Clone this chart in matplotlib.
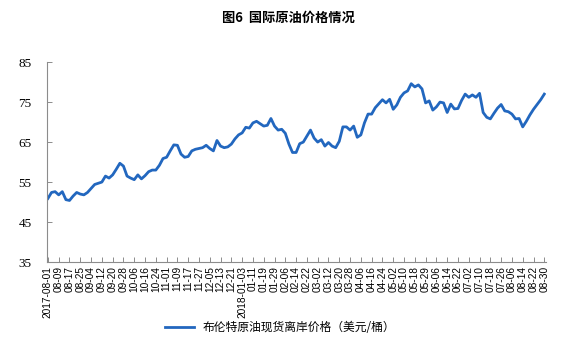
import numpy as np
import matplotlib
matplotlib.use('Agg')
import matplotlib.pyplot as plt

# Brent spot price, sampled every 2nd trading day (2017-08-01 .. 2018-08-30)
brent = [50.9, 52.4, 52.6, 51.8, 52.6, 50.6, 50.4, 51.5, 52.4, 52.0,
         51.8, 52.4, 53.4, 54.4, 54.7, 55.0, 56.5, 56.0, 56.8, 58.2,
         59.7, 59.0, 56.5, 56.0, 55.6, 56.8, 55.8, 56.6, 57.6, 58.0,
         58.0, 59.2, 60.9, 61.2, 62.8, 64.3, 64.2, 62.0, 61.2, 61.4,
         62.8, 63.2, 63.4, 63.6, 64.2, 63.4, 62.8, 65.4, 64.0, 63.6,
         63.8, 64.5, 65.8, 66.8, 67.3, 68.7, 68.5, 69.8, 70.2, 69.6,
         69.0, 69.2, 70.9, 69.0, 68.0, 68.2, 67.2, 64.5, 62.4, 62.4,
         64.6, 65.0, 66.5, 68.0, 66.0, 65.0, 65.6, 64.0, 64.9, 64.0,
         63.6, 65.2, 68.8, 68.8, 68.0, 69.0, 66.2, 66.8, 69.8, 72.0,
         72.0, 73.6, 74.6, 75.6, 74.8, 75.7, 73.2, 74.3, 76.2, 77.3,
         77.8, 79.6, 78.8, 79.3, 78.3, 74.8, 75.3, 73.0, 73.8, 75.0,
         74.8, 72.4, 74.5, 73.3, 73.4, 75.4, 77.0, 76.2, 76.8, 76.2,
         77.2, 72.4, 71.2, 70.8, 72.2, 73.5, 74.4, 72.8, 72.6, 72.0,
         70.8, 70.9, 68.8, 70.2, 71.8, 73.2, 74.4, 75.6, 77.0]

# tick labels, one every 6 trading days
date_labels = ['2017-08-01', '08-09', '08-17', '08-25', '09-04', '09-12', '09-20',
               '09-28', '10-06', '10-16', '10-24', '11-01', '11-09', '11-17',
               '11-27', '12-05', '12-13', '12-21', '2018-01-03', '01-11', '01-19',
               '01-29', '02-06', '02-14', '02-22', '03-02', '03-12', '03-20',
               '03-28', '04-06', '04-16', '04-24', '05-02', '05-10', '05-18',
               '05-29', '06-06', '06-14', '06-22', '07-02', '07-10', '07-18',
               '07-26', '08-06', '08-14', '08-22', '08-30']
y_ticks = [35, 45, 55, 65, 75, 85]

title = '图6  国际原油价格情况'
series_name = '布伦特原油现货离岸价格（美元/桶）'

cjk = ['Noto Sans CJK SC', 'DejaVu Sans']
line_color = '#2267BF'
axis_color = '#8C8C8C'

x = np.arange(len(brent)) * 2
tick_pos = np.arange(len(date_labels)) * 6

fig = plt.figure(figsize=(5.61, 3.57), dpi=100)
ax = fig.add_axes([0.0838, 0.266, 0.889, 0.56])

ax.plot(x, brent, color=line_color, linewidth=2.0, label=series_name)

ax.set_xlim(-0.5, 276.8)
ax.set_ylim(35, 85)
ax.set_yticks(y_ticks)
ax.set_yticklabels([str(v) for v in y_ticks], family='Liberation Serif', fontsize=9.5)
ax.set_xticks(tick_pos)
ax.set_xticklabels(date_labels, rotation=90, family='Liberation Sans', fontsize=7.3)

for side in ['top', 'right']:
    ax.spines[side].set_visible(False)
for side in ['left', 'bottom']:
    ax.spines[side].set_color(axis_color)
    ax.spines[side].set_linewidth(0.8)
ax.tick_params(axis='both', direction='in', length=3.5, width=0.7, color=axis_color)
ax.tick_params(axis='y', pad=11)
ax.tick_params(axis='x', pad=3)

fig.text(0.515, 0.95, title, ha='center', va='center', fontsize=9.5,
         fontweight='bold', family=cjk)

leg = fig.legend(loc='center', bbox_to_anchor=(0.5, 0.083), frameon=False,
                 prop={'family': cjk, 'size': 8.5}, handlelength=2.4)

fig.savefig('out.png', dpi=100)
